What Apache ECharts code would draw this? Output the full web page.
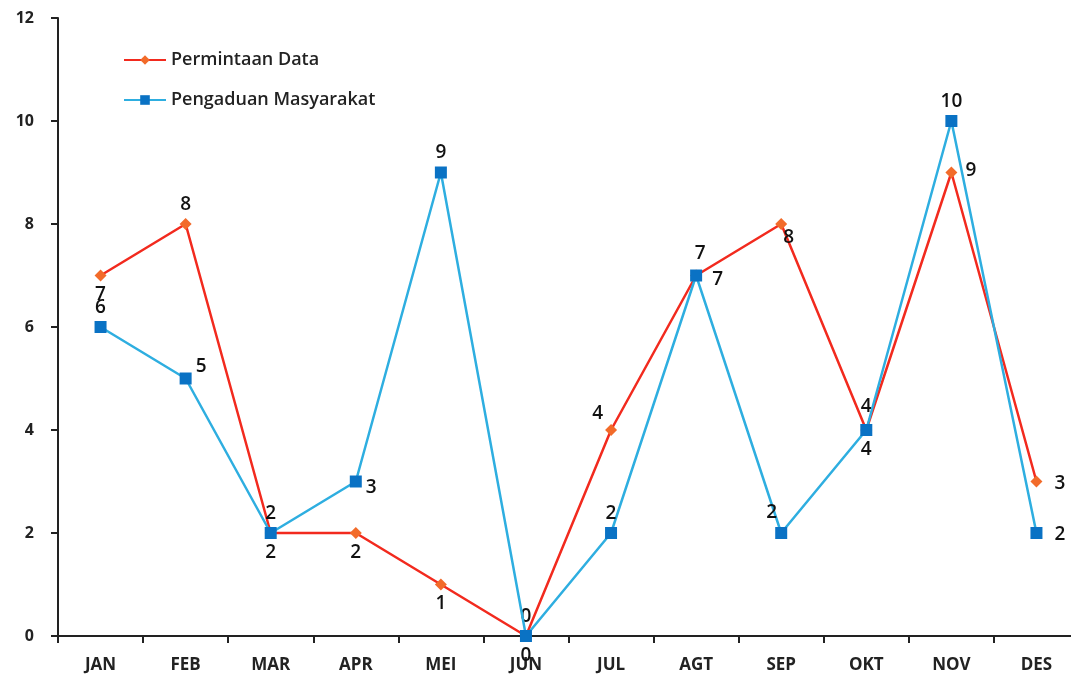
<!DOCTYPE html>
<html>
<head>
<meta charset="utf-8">
<script src="https://cdn.jsdelivr.net/npm/echarts@6/dist/echarts.min.js"></script>
<style>
  html, body { margin: 0; padding: 0; background: #fff; }
  #chart-container { width: 1071px; height: 681px; }
</style>
</head>
<body>
<div id="chart-container"></div>
<script>
var months = ['JAN', 'FEB', 'MAR', 'APR', 'MEI', 'JUN', 'JUL', 'AGT', 'SEP', 'OKT', 'NOV', 'DES'];
var permintaan = [7, 8, 2, 2, 1, 0, 4, 7, 8, 4, 9, 3];
var pengaduan = [6, 5, 2, 3, 9, 0, 2, 7, 2, 4, 10, 2];
// where each value label sits around its point
var permintaanPos = ['bottom', 'top', 'top', 'bottom', 'bottom', 'top', 'left', 'right', 'right', 'top', 'right', 'right'];
var pengaduanPos = ['top', 'right', 'bottom', 'right', 'top', 'bottom', 'top', 'top', 'left', 'bottom', 'top', 'right'];

var labelFont = { fontFamily: 'Open Sans', fontSize: 19, fontWeight: 600, color: '#111' };

function buildData(values, positions, offsets) {
  return values.map(function (v, i) {
    var lab = Object.assign({ show: true, position: positions[i], distance: 4 }, labelFont);
    if (offsets && offsets[i]) lab.offset = offsets[i];
    return { value: v, label: lab };
  });
}

var permOffsets = { 6: [2, -16], 7: [6, 4], 8: [-8, 14], 9: [0, -4], 10: [4, -2], 11: [8, 2] };
var pengOffsets = { 1: [0, -12], 3: [0, 6], 7: [4, -2], 8: [6, -20], 11: [8, 2] };

var dom = document.getElementById('chart-container');
var myChart = echarts.init(dom, null, { renderer: 'canvas' });

var option = {
  animation: false,
  backgroundColor: '#fff',
  grid: { left: 58, right: -8, top: 18, bottom: 45, containLabel: false, outerBoundsMode: 'none' },
  legend: {
    orient: 'vertical',
    left: 118,
    top: 46,
    itemWidth: 42,
    itemHeight: 12,
    itemGap: 22,
    textStyle: { fontFamily: 'Open Sans', fontSize: 18, fontWeight: 600, color: '#222' },
    data: ['Permintaan Data', 'Pengaduan Masyarakat']
  },
  xAxis: {
    type: 'category',
    data: months,
    boundaryGap: true,
    axisLine: { lineStyle: { color: '#222', width: 2 } },
    axisTick: { show: true, length: 7, lineStyle: { color: '#222', width: 2 } },
    axisLabel: { fontFamily: 'Open Sans', fontSize: 17, fontWeight: 'bold', color: '#222', margin: 21 },
    splitLine: { show: false }
  },
  yAxis: {
    type: 'value',
    min: 0,
    max: 12,
    interval: 2,
    axisLine: { show: true, lineStyle: { color: '#222', width: 2 } },
    axisTick: { show: true, length: 7, lineStyle: { color: '#222', width: 2 } },
    axisLabel: { fontFamily: 'Open Sans', fontSize: 16, fontWeight: 'bold', color: '#222', margin: 24 },
    splitLine: { show: false }
  },
  series: [
    {
      name: 'Permintaan Data',
      type: 'line',
      symbol: 'diamond',
      symbolSize: 12,
      lineStyle: { color: '#f22a1e', width: 2.5 },
      itemStyle: { color: '#f26b2a' },
      data: buildData(permintaan, permintaanPos, permOffsets),
      z: 3
    },
    {
      name: 'Pengaduan Masyarakat',
      type: 'line',
      symbol: 'rect',
      symbolSize: 12,
      lineStyle: { color: '#2eaee0', width: 2.5 },
      itemStyle: { color: '#0a72c4' },
      data: buildData(pengaduan, pengaduanPos, pengOffsets),
      z: 4
    }
  ]
};

myChart.setOption(option);
window.addEventListener('resize', myChart.resize);
</script>
</body>
</html>
